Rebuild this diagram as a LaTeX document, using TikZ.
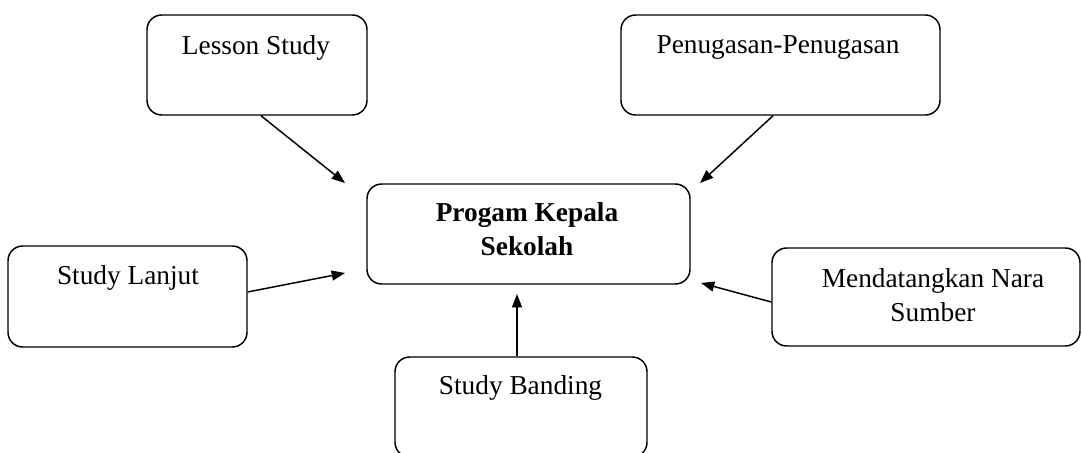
\documentclass[tikz,border=0pt]{standalone}
\usepackage{fontspec}
\setmainfont{Liberation Serif}
\usetikzlibrary{arrows.meta}
\begin{document}
\begin{tikzpicture}[x=0.75pt,y=-0.75pt,
  box/.style={draw, line width=1.1pt, rounded corners=11pt, inner sep=0pt, minimum height=75pt},
  txt/.style={inner sep=0pt, align=center, font=\fontsize{20.5}{25.5}\selectfont},
  link/.style={line width=1.1pt, -{Triangle[length=10pt,width=7.5pt]}}
]
\useasboundingbox (0,0) rectangle (1082,453);

% boxes
\node[box, minimum width=165pt] (ls) at (257,65) {};
\node[box, minimum width=239.25pt] (pp) at (780.5,65) {};
\node[box, minimum width=242.25pt] (pk) at (528.5,234) {};
\node[box, minimum width=179.25pt, minimum height=75.75pt] (sl) at (127.5,296.5) {};
\node[box, minimum width=231pt, minimum height=73.5pt] (mn) at (926,297) {};
\node[box, minimum width=189pt] (sb) at (521,407) {};

% labels
\node[txt] (lsT) at (256,48) {Lesson Study};
\node[txt] (ppT) at (778,48) {Penugasan-Penugasan};
\node[txt, font=\fontsize{20.5}{25.5}\selectfont\bfseries] (pkT) at (527,229) {Progam Kepala\\Sekolah};
\node[txt] (slT) at (128,278) {Study Lanjut};
\node[txt] (mnT) at (933,295) {Mendatangkan Nara\\Sumber};
\node[txt] (sbT) at (520.5,388) {Study Banding};

% arrow tips
\coordinate (lsE) at (345,183);
\coordinate (ppE) at (700,183);
\coordinate (slE) at (345,273);
\coordinate (mnE) at (701,283);
\coordinate (sbE) at (517,294);

% connectors
\draw[link] ([xshift=3pt]ls.south) -- (lsE);
\draw[link] ([xshift=-5.6pt]pp.south) -- (ppE);
\draw[link] ([yshift=3.4pt]sl.east) -- (slE);
\draw[link] ([yshift=-3.75pt]mn.west) -- (mnE);
\draw[link] ([xshift=-3pt]sb.north) -- (sbE);
\end{tikzpicture}
\end{document}
